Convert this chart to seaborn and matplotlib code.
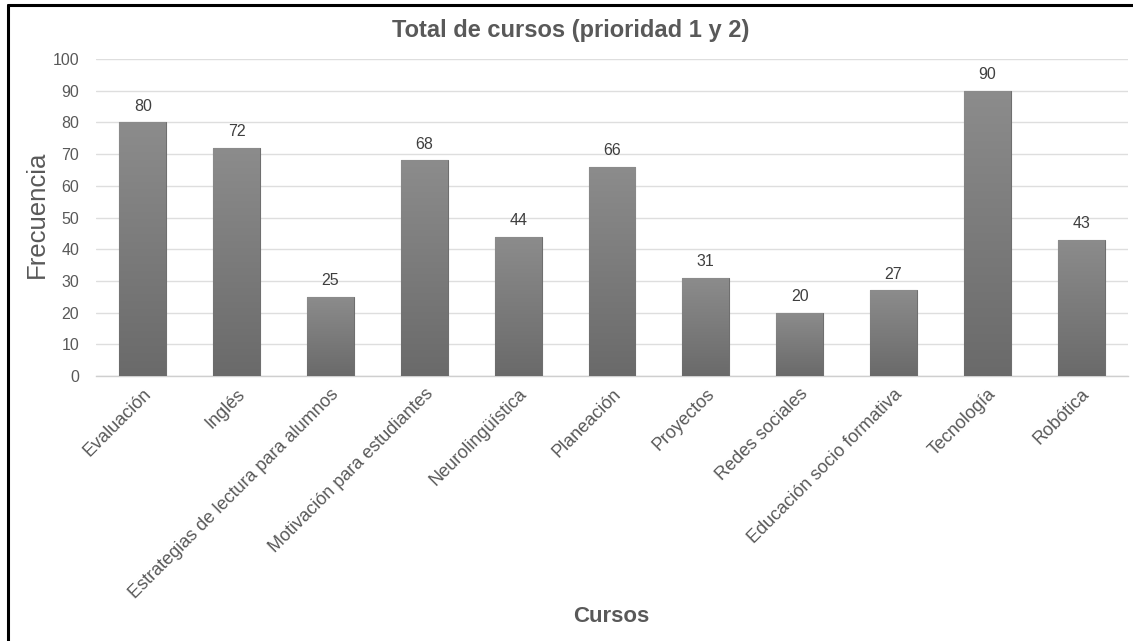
import numpy as np
import pandas as pd
import matplotlib
matplotlib.use("Agg")
import matplotlib.pyplot as plt
from matplotlib.lines import Line2D
import seaborn as sns

# Course categories and their combined priority 1 + 2 counts
cursos = [
    "Evaluación", "Inglés", "Estrategias de lectura para alumnos",
    "Motivación para estudiantes", "Neurolingüística", "Planeación",
    "Proyectos", "Redes sociales", "Educación socio formativa",
    "Tecnología", "Robótica",
]
frecuencia = [80, 72, 25, 68, 44, 66, 31, 20, 27, 90, 43]
y_ticks = list(range(0, 101, 10))

df = pd.DataFrame({"Cursos": cursos, "Frecuencia": frecuencia})

sns.set_theme(style="white")
plt.rcParams["font.family"] = ["Liberation Sans", "DejaVu Sans"]

TEXT = "#595959"
W, H = 1133, 641
fig = plt.figure(figsize=(W / 100, H / 100), dpi=100)
ax = fig.add_axes([96 / W, 1 - 376 / H, 1032 / W, 317 / H])

sns.barplot(data=df, x="Cursos", y="Frecuencia", color="#7a7a7a",
            width=0.5, ax=ax, zorder=3, saturation=1)

ax.set_yticks(y_ticks)
ax.set_yticklabels([str(t) for t in y_ticks], fontsize=11.5, color=TEXT)
ax.yaxis.grid(True, color="#dedede", linewidth=1, zorder=0)
ax.set_axisbelow(True)
for side in ["left", "right", "top"]:
    ax.spines[side].set_visible(False)
ax.spines["bottom"].set_color("#cfcfcf")
ax.spines["bottom"].set_linewidth(1)
ax.tick_params(axis="y", length=0, pad=12)
ax.tick_params(axis="x", length=0, pad=7)

ax.set_xticks(range(len(cursos)))
ax.set_xticklabels(cursos, rotation=45, ha="right", rotation_mode="anchor",
                   fontsize=13, color=TEXT)

# Vertical grey gradient inside each bar
grad = np.linspace(0, 1, 256).reshape(-1, 1)
cmap = matplotlib.colors.LinearSegmentedColormap.from_list(
    "bar", ["#6a6a6a", "#8c8c8c"])
for patch, val in zip(ax.patches, frecuencia):
    x0 = patch.get_x()
    w = patch.get_width()
    patch.set_edgecolor("#6f6f6f")
    patch.set_linewidth(0.8)
    img = ax.imshow(grad, cmap=cmap, aspect="auto", origin="lower",
                    extent=[x0, x0 + w, 0, val], zorder=3.5,
                    interpolation="bilinear")
    img.set_clip_path(patch)
    ax.annotate(str(val), (x0 + w / 2, val), xytext=(0, 6),
                textcoords="offset points", ha="center", va="bottom",
                fontsize=11.5, color="#3f3f3f")

ax.set_xlim(-0.5, len(cursos) - 0.5)
ax.set_ylim(0, 100)

ax.set_xlabel("")
ax.set_ylabel("")
fig.text(571 / W, 1 - 30 / H, "Total de cursos (prioridad 1 y 2)",
         ha="center", va="center", fontsize=17, fontweight="bold", color=TEXT)
fig.text(37 / W, 1 - 214 / H, "Frecuencia", ha="center", va="center",
         rotation=90, fontsize=18.5, color=TEXT)
fig.text(611 / W, 1 - 616 / H, "Cursos", ha="center", va="center",
         fontsize=16, fontweight="bold", color=TEXT)

# Thin black frame along the top and left edges
fig.add_artist(Line2D([8 / W, 1], [1 - 5 / H, 1 - 5 / H], color="black",
                      linewidth=2.2, transform=fig.transFigure))
fig.add_artist(Line2D([8 / W, 8 / W], [0, 1 - 5 / H], color="black",
                      linewidth=2.2, transform=fig.transFigure))

fig.savefig("out.png", dpi=100, facecolor="white")
